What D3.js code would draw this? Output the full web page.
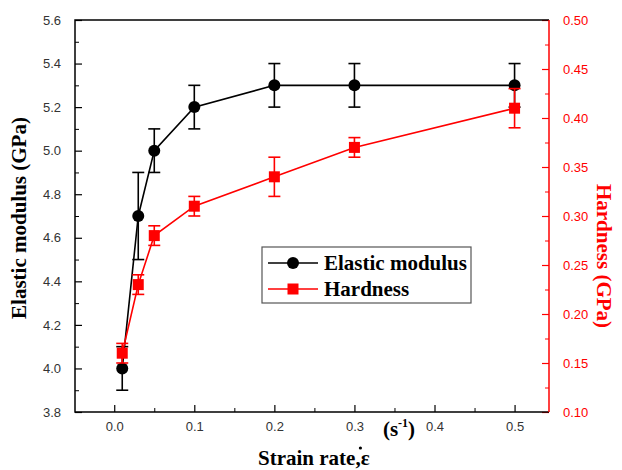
<!DOCTYPE html>
<html>
<head>
<meta charset="utf-8">
<script src="https://cdn.jsdelivr.net/npm/d3@7"></script>
<style>
  body { margin: 0; background: #fff; }
  text { font-family: "Liberation Sans", Arial, sans-serif; }
  .serif { font-family: "Liberation Serif", "Times New Roman", serif; font-weight: bold; }
</style>
</head>
<body>
<svg id="chart" width="622" height="470"></svg>
<script>
const strainRate = [0.01, 0.03, 0.05, 0.1, 0.2, 0.3, 0.5];
const modulus = [4.0, 4.7, 5.0, 5.2, 5.3, 5.3, 5.3];
const modulusErr = [0.1, 0.2, 0.1, 0.1, 0.1, 0.1, 0.1];
const hardness = [0.16, 0.23, 0.28, 0.31, 0.34, 0.37, 0.41];
const hardnessErr = [0.01, 0.01, 0.01, 0.01, 0.02, 0.01, 0.02];
const xTicks = [0.0, 0.1, 0.2, 0.3, 0.4, 0.5];
const leftTicks = [3.8, 4.0, 4.2, 4.4, 4.6, 4.8, 5.0, 5.2, 5.4, 5.6];
const rightTicks = [0.10, 0.15, 0.20, 0.25, 0.30, 0.35, 0.40, 0.45, 0.50];

const svg = d3.select("#chart"),
  margin = { top: 20, right: 73, bottom: 58, left: 75 },
  width = +svg.attr("width") - margin.left - margin.right,
  height = +svg.attr("height") - margin.top - margin.bottom;

const chart = svg.append("g")
  .attr("transform", `translate(${margin.left},${margin.top})`);

const x = d3.scaleLinear().domain([-0.049, 0.543]).range([0, width]);
const yL = d3.scaleLinear().domain([3.8, 5.6]).range([height, 0]);
const yR = d3.scaleLinear().domain([0.10, 0.50]).range([height, 0]);

const red = "#ff0000";

// minor ticks
chart.append("g")
  .attr("transform", `translate(0,${height})`)
  .call(d3.axisBottom(x).tickValues(d3.range(0.05, 0.5, 0.1)).tickSize(-4).tickFormat(""))
  .call(g => g.select(".domain").remove());
chart.append("g")
  .call(d3.axisLeft(yL).tickValues(d3.range(3.9, 5.6, 0.2)).tickSize(-4).tickFormat(""))
  .call(g => g.select(".domain").remove());
chart.append("g")
  .attr("transform", `translate(${width},0)`)
  .call(d3.axisRight(yR).tickValues(d3.range(0.125, 0.5, 0.05)).tickSize(-4).tickFormat(""))
  .call(g => g.select(".domain").remove())
  .selectAll("line").attr("stroke", red);

// major axes
const xAxis = chart.append("g")
  .attr("transform", `translate(0,${height})`)
  .call(d3.axisBottom(x).tickValues(xTicks).tickSize(-7).tickPadding(10).tickFormat(d3.format(".1f")));
const lAxis = chart.append("g")
  .call(d3.axisLeft(yL).tickValues(leftTicks).tickSize(-7).tickPadding(14).tickFormat(d3.format(".1f")));
const rAxis = chart.append("g")
  .attr("transform", `translate(${width},0)`)
  .call(d3.axisRight(yR).tickValues(rightTicks).tickSize(-7).tickPadding(14).tickFormat(d3.format(".2f")));

[xAxis, lAxis].forEach(a => {
  a.select(".domain").remove();
  a.selectAll("text").attr("font-size", 13).attr("fill", "#333");
  a.selectAll("line").attr("stroke-width", 1.2);
});
rAxis.select(".domain").remove();
rAxis.selectAll("line").attr("stroke", red).attr("stroke-width", 1.2);
rAxis.selectAll("text").attr("font-size", 13).attr("fill", red);

// frame
chart.append("path")
  .attr("d", `M${width},0H0V${height}H${width}`)
  .attr("fill", "none").attr("stroke", "#000").attr("stroke-width", 1.5);
chart.append("line")
  .attr("x1", width).attr("x2", width).attr("y1", 0).attr("y2", height)
  .attr("stroke", red).attr("stroke-width", 1.5);

const modData = strainRate.map((s, i) => ({ s, v: modulus[i], e: modulusErr[i] }));
const hardData = strainRate.map((s, i) => ({ s, v: hardness[i], e: hardnessErr[i] }));

function errorBars(data, y, color, cap) {
  const g = chart.append("g").attr("stroke", color).attr("stroke-width", 1.6);
  data.forEach(d => {
    const cx = x(d.s), y0 = y(d.v - d.e), y1 = y(d.v + d.e);
    g.append("line").attr("x1", cx).attr("x2", cx).attr("y1", y0).attr("y2", y1);
    g.append("line").attr("x1", cx - cap).attr("x2", cx + cap).attr("y1", y0).attr("y2", y0);
    g.append("line").attr("x1", cx - cap).attr("x2", cx + cap).attr("y1", y1).attr("y2", y1);
  });
}

// modulus series
errorBars(modData, yL, "#000", 6);
chart.append("path")
  .datum(modData)
  .attr("fill", "none").attr("stroke", "#000").attr("stroke-width", 1.6)
  .attr("d", d3.line().x(d => x(d.s)).y(d => yL(d.v)));
chart.selectAll("circle.mod")
  .data(modData)
  .join("circle")
  .attr("class", "mod")
  .attr("cx", d => x(d.s)).attr("cy", d => yL(d.v))
  .attr("r", 6).attr("fill", "#000");

// hardness series
errorBars(hardData, yR, red, 6);
chart.append("path")
  .datum(hardData)
  .attr("fill", "none").attr("stroke", red).attr("stroke-width", 1.6)
  .attr("d", d3.line().x(d => x(d.s)).y(d => yR(d.v)));
chart.selectAll("rect.hard")
  .data(hardData)
  .join("rect")
  .attr("class", "hard")
  .attr("x", d => x(d.s) - 5.5).attr("y", d => yR(d.v) - 5.5)
  .attr("width", 11).attr("height", 11).attr("fill", red);

// legend
const legend = svg.append("g").attr("transform", "translate(262,247)");
legend.append("rect")
  .attr("width", 209).attr("height", 56)
  .attr("fill", "#fff").attr("stroke", "#555").attr("stroke-width", 1.2);
const items = [
  { label: "Elastic modulus", color: "#000", shape: "circle" },
  { label: "Hardness", color: red, shape: "square" }
];
items.forEach((it, i) => {
  const ly = 16 + i * 26;
  legend.append("line")
    .attr("x1", 6).attr("x2", 56).attr("y1", ly).attr("y2", ly)
    .attr("stroke", it.color).attr("stroke-width", 1.6);
  if (it.shape === "circle") {
    legend.append("circle").attr("cx", 31).attr("cy", ly).attr("r", 6).attr("fill", it.color);
  } else {
    legend.append("rect").attr("x", 25.5).attr("y", ly - 5.5).attr("width", 11).attr("height", 11).attr("fill", it.color);
  }
  legend.append("text")
    .attr("class", "serif")
    .attr("x", 62).attr("y", ly + 7)
    .attr("font-size", 21)
    .text(it.label);
});

// axis titles
svg.append("text")
  .attr("class", "serif")
  .attr("transform", `translate(26,${margin.top + height / 2 + 2}) rotate(-90)`)
  .attr("text-anchor", "middle")
  .attr("font-size", 21)
  .text("Elastic modulus (GPa)");

svg.append("text")
  .attr("class", "serif")
  .attr("transform", `translate(597,${margin.top + height / 2 + 40}) rotate(90)`)
  .attr("text-anchor", "middle")
  .attr("font-size", 21)
  .attr("fill", red)
  .text("Hardness (GPa)");

const xt = svg.append("text")
  .attr("class", "serif")
  .attr("x", 258).attr("y", 465)
  .attr("font-size", 21);
xt.append("tspan").text("Strain rate,");
const eps = xt.append("tspan").text("ε");
const epsStart = xt.node().getSubStringLength(0, 11);
svg.append("circle")
  .attr("cx", 258 + epsStart + 5).attr("cy", 448)
  .attr("r", 1.6).attr("fill", "#000");

const unit = svg.append("text")
  .attr("class", "serif")
  .attr("x", 399).attr("y", 436)
  .attr("text-anchor", "middle")
  .attr("font-size", 21);
unit.append("tspan").text("(s");
unit.append("tspan").attr("font-size", 12).attr("dy", -9).text("-1");
unit.append("tspan").attr("dy", 9).text(")");
</script>
</body>
</html>
